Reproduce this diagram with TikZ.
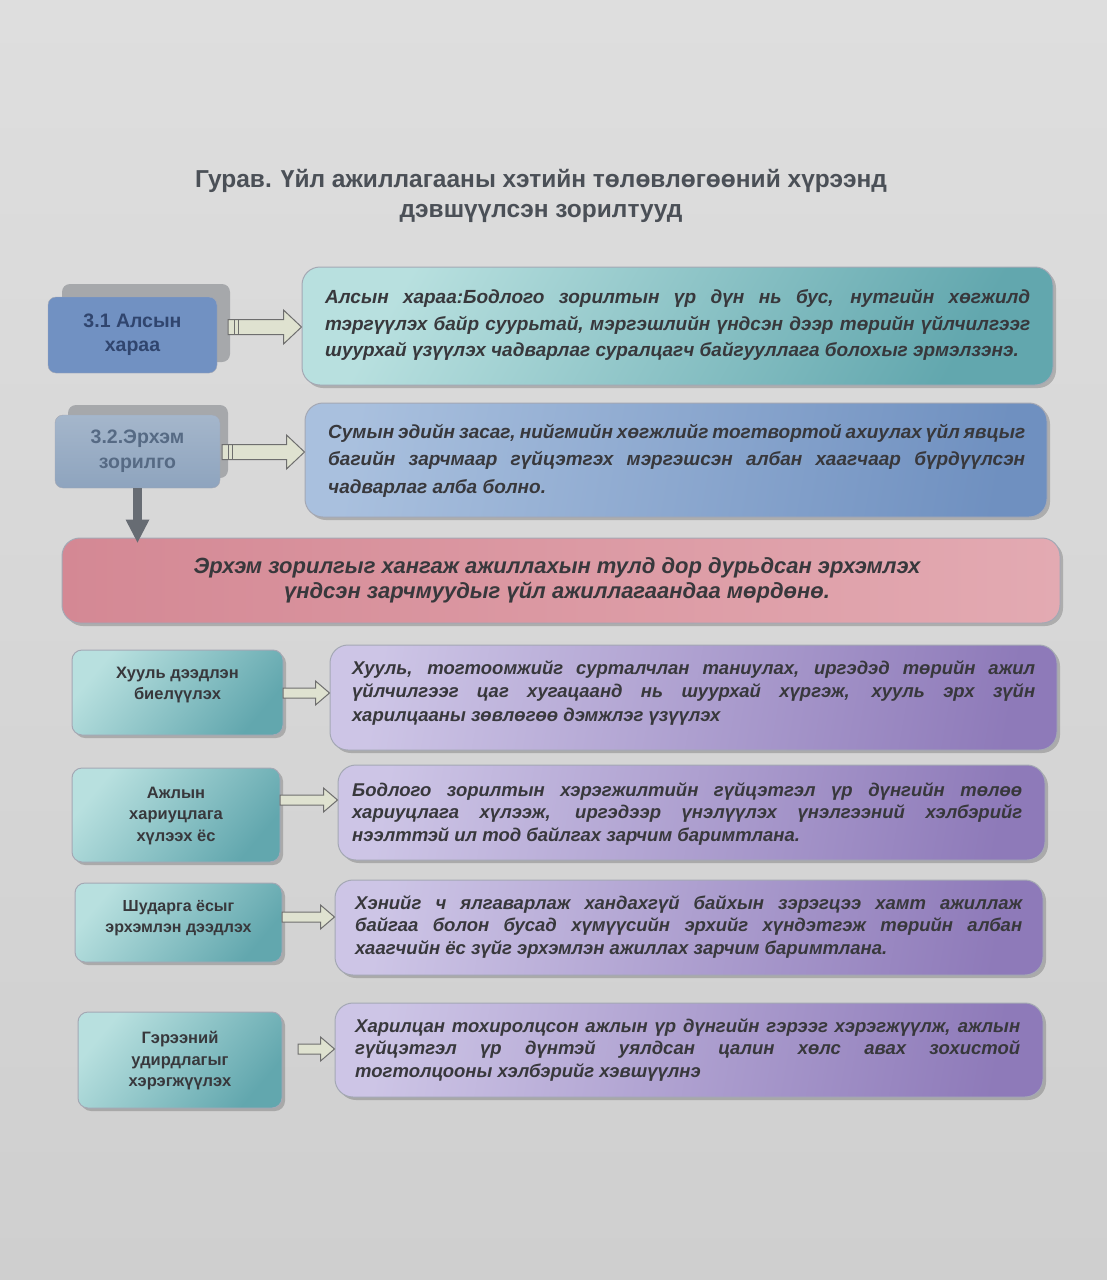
\documentclass[tikz,border=0pt]{standalone}
\usepackage{fontspec}
\setmainfont{Liberation Sans}
\usetikzlibrary{shadows,calc}
\definecolor{bgtop}{HTML}{DEDEDE}
\definecolor{bgbot}{HTML}{CFCFCF}
\definecolor{titlec}{HTML}{4B5057}
\definecolor{txt}{HTML}{38383C}
\definecolor{tealA}{HTML}{B8E0DF}
\definecolor{tealB}{HTML}{62A7AE}
\definecolor{blueA}{HTML}{A9C0DE}
\definecolor{blueB}{HTML}{6F90C0}
\definecolor{pinkA}{HTML}{D48894}
\definecolor{pinkB}{HTML}{E3AAB2}
\definecolor{lavA}{HTML}{CDC5E6}
\definecolor{lavB}{HTML}{8E7AB9}
\definecolor{lblA}{HTML}{7191C2}
\definecolor{lblAt}{HTML}{30456E}
\definecolor{lblB}{HTML}{8EA4BE}
\definecolor{lblBt}{HTML}{566A84}
\definecolor{shgray}{HTML}{A6A8AB}
\definecolor{arrfill}{HTML}{DFE2D0}
\definecolor{arrdraw}{HTML}{6E6E6E}
\definecolor{darr}{HTML}{676C73}
\definecolor{edge}{HTML}{A4A8B4}
\newcommand\jl[2]{\makebox[#1][s]{#2}}
\newcommand\hollowarrow[5]{%
  \draw[arrowst] let \p1=(#1), \p2=(#2.west) in
   (\x1,\y1-#3) -- (\x2-#5,\y1-#3) -- (\x2-#5,\y1-#4) -- (\x2,\y1) --
   (\x2-#5,\y1+#4) -- (\x2-#5,\y1+#3) -- (\x1,\y1+#3) -- cycle;}
\begin{document}
\begin{tikzpicture}[x=1pt,y=-1pt,
  bx/.style={rounded corners=18pt, draw=edge, line width=1pt,
    drop shadow={shadow xshift=3pt, shadow yshift=-3pt, opacity=.3, fill=black!70}},
  tealbox/.style={bx, left color=tealA, right color=tealB, shading angle=60},
  bluebox/.style={bx, left color=blueA, right color=blueB, shading angle=80},
  pinkbox/.style={bx, left color=pinkA, right color=pinkB},
  lavbox/.style={bx, left color=lavA, right color=lavB, shading angle=80},
  smallbox/.style={rounded corners=10pt, draw=edge, line width=1pt,
    left color=tealA, right color=tealB, shading angle=50,
    drop shadow={shadow xshift=3pt, shadow yshift=-3pt, opacity=.3, fill=black!70}},
  bodytxt/.style={anchor=west, inner sep=0pt, align=left, text=txt,
    font={\bfseries\itshape\fontsize{19}{26.5}\selectfont}},
  lowtxt/.style={anchor=west, inner sep=0pt, align=left, text=txt,
    font={\bfseries\itshape\fontsize{18.5}{22.5}\selectfont}},
  lbltxt/.style={inner sep=0pt, align=center, text=txt,
    font={\bfseries\fontsize{16.5}{21.5}\selectfont}},
  arrowst/.style={fill=arrfill, draw=arrdraw, line width=1pt, line join=miter}
]
\useasboundingbox (0,0) rectangle (1107,1280);
\fill[top color=bgtop, bottom color=bgbot] (0,0) rectangle (1107,1280);

% title
\node[align=center, text=titlec, inner sep=0pt,
  font={\bfseries\fontsize{24.5}{30}\selectfont}] (title) at (541,196)
  {Гурав. Үйл ажиллагааны хэтийн төлөвлөгөөний хүрээнд\\дэвшүүлсэн зорилтууд};

% 3.1
\fill[shgray, rounded corners=8pt] (62,284) rectangle (230,362);
\node[rounded corners=8pt, draw=edge, fill=lblA, minimum width=169pt, minimum height=76pt,
  align=center, text=lblAt, font={\bfseries\fontsize{19.5}{24}\selectfont}] (l31) at (132.5,335)
  {3.1 Алсын\\хараа};
\node[tealbox, minimum width=751pt, minimum height=118pt] (b1) at (677.5,326) {};
\node[bodytxt] (t1) at (325,325)
  {\jl{705pt}{Алсын хараа:Бодлого зорилтын үр  дүн нь бус, нутгийн хөгжилд}\\
   \jl{705pt}{тэргүүлэх байр суурьтай, мэргэшлийн үндсэн дээр  төрийн  үйлчилгээг}\\
   шуурхай үзүүлэх чадварлаг суралцагч  байгууллага болохыг эрмэлзэнэ.};
\coordinate (a1) at (228,327);
\hollowarrow{a1}{b1}{7.5pt}{17pt}{18pt}
\draw[arrdraw] ($(a1)+(6,-7.5)$) -- ($(a1)+(6,7.5)$) ($(a1)+(10,-7.5)$) -- ($(a1)+(10,7.5)$);

% 3.2
\fill[shgray, rounded corners=8pt] (68,405) rectangle (228,478);
\node[rounded corners=8pt, draw=edge, top color=lblB!80!white, bottom color=lblB, minimum width=165pt, minimum height=73pt,
  align=center, text=lblBt, font={\bfseries\fontsize{19.5}{25}\selectfont}] (l32) at (137.5,451.5)
  {3.2.Эрхэм\\зорилго};
\node[bluebox, minimum width=742pt, minimum height=114pt] (b2) at (676,460) {};
\node[bodytxt, font={\bfseries\itshape\fontsize{19}{27.5}\selectfont}] (t2) at (328,460.5)
  {\jl{697pt}{Сумын эдийн засаг, нийгмийн хөгжлийг тогтвортой ахиулах үйл явцыг}\\
   \jl{697pt}{багийн зарчмаар гүйцэтгэх мэргэшсэн албан хаагчаар бүрдүүлсэн}\\
   чадварлаг алба болно.};
\coordinate (a2) at (222,452);
\hollowarrow{a2}{b2}{7.5pt}{17pt}{18pt}
\draw[arrdraw] ($(a2)+(6,-7.5)$) -- ($(a2)+(6,7.5)$) ($(a2)+(10,-7.5)$) -- ($(a2)+(10,7.5)$);

% banner
\node[pinkbox, minimum width=998pt, minimum height=85pt] (ban) at (561,580.5) {};
\node[align=center, inner sep=0pt, text=txt,
  font={\bfseries\itshape\fontsize{22}{25}\selectfont}] (bt) at (557,580)
  {Эрхэм зорилгыг хангаж ажиллахын тулд дор дурьдсан эрхэмлэх\\
   үндсэн зарчмуудыг  үйл ажиллагаандаа мөрдөнө.};
% down arrow
\draw[darr, line width=9pt] (l32.south) -- ($(l32.south |- ban.north)+(0,-16)$);
\fill[darr] ($(l32.south |- ban.north)+(-12,-18)$) -- ($(l32.south |- ban.north)+(12,-18)$)
  -- ($(l32.south |- ban.north)+(0,5)$) -- cycle;

% row 1
\node[smallbox, minimum width=211pt, minimum height=85pt] (s1) at (177.5,692.5) {};
\node[lbltxt] (s1t) at (177.5,685) {Хууль дээдлэн\\биелүүлэх};
\node[lavbox, minimum width=727pt, minimum height=105pt] (r1) at (693.5,697.5) {};
\node[lowtxt, font={\bfseries\itshape\fontsize{18.5}{23.5}\selectfont}] (r1t) at (352,692.5)
  {\jl{683pt}{Хууль, тогтоомжийг сурталчлан таниулах, иргэдэд төрийн ажил}\\
   \jl{683pt}{үйлчилгээг цаг хугацаанд нь шуурхай  хүргэж, хууль эрх зүйн}\\
   харилцааны зөвлөгөө  дэмжлэг үзүүлэх};
\coordinate (c1) at (283,693);
\hollowarrow{c1}{r1}{5pt}{12pt}{14pt}

% row 2
\node[smallbox, minimum width=208pt, minimum height=94pt] (s2) at (176,815) {};
\node[lbltxt] (s2t) at (176,816) {Ажлын\\хариуцлага\\хүлээх ёс};
\node[lavbox, minimum width=707pt, minimum height=95pt] (r2) at (691.5,812.5) {};
\node[lowtxt] (r2t) at (352,813.5)
  {\jl{670pt}{Бодлого зорилтын хэрэгжилтийн гүйцэтгэл үр дүнгийн төлөө}\\
   \jl{670pt}{хариуцлага хүлээж, иргэдээр үнэлүүлэх үнэлгээний хэлбэрийг}\\
   нээлттэй ил тод байлгах зарчим  баримтлана.};
\coordinate (c2) at (280,800);
\hollowarrow{c2}{r2}{5pt}{12pt}{14pt}

% row 3
\node[smallbox, minimum width=207pt, minimum height=79pt] (s3) at (178.5,922.5) {};
\node[lbltxt, font={\bfseries\fontsize{16}{20.5}\selectfont}] (s3t) at (178.5,918) {Шударга ёсыг\\эрхэмлэн дээдлэх};
\node[lavbox, minimum width=708pt, minimum height=95pt] (r3) at (689,927.5) {};
\node[lowtxt] (r3t) at (355,926.5)
  {\jl{667pt}{Хэнийг ч ялгаварлаж хандахгүй байхын зэрэгцээ хамт ажиллаж}\\
   \jl{667pt}{байгаа болон бусад хүмүүсийн эрхийг хүндэтгэж төрийн албан}\\
   хаагчийн ёс зүйг  эрхэмлэн ажиллах зарчим  баримтлана.};
\coordinate (c3) at (282,917);
\hollowarrow{c3}{r3}{5pt}{12pt}{14pt}

% row 4
\node[smallbox, minimum width=204pt, minimum height=96pt] (s4) at (180,1060) {};
\node[lbltxt] (s4t) at (180,1061) {Гэрээний\\удирдлагыг\\хэрэгжүүлэх};
\node[lavbox, minimum width=708pt, minimum height=94pt] (r4) at (689,1050) {};
\node[lowtxt] (r4t) at (355,1049.5)
  {\jl{665pt}{Харилцан тохиролцсон ажлын үр дүнгийн гэрээг хэрэгжүүлж, ажлын}\\
   \jl{665pt}{гүйцэтгэл үр дүнтэй уялдсан цалин хөлс  авах зохистой}\\
   тогтолцооны хэлбэрийг хэвшүүлнэ};
\coordinate (c4) at (298,1049);
\hollowarrow{c4}{r4}{5pt}{12pt}{14pt}
\end{tikzpicture}
\end{document}
